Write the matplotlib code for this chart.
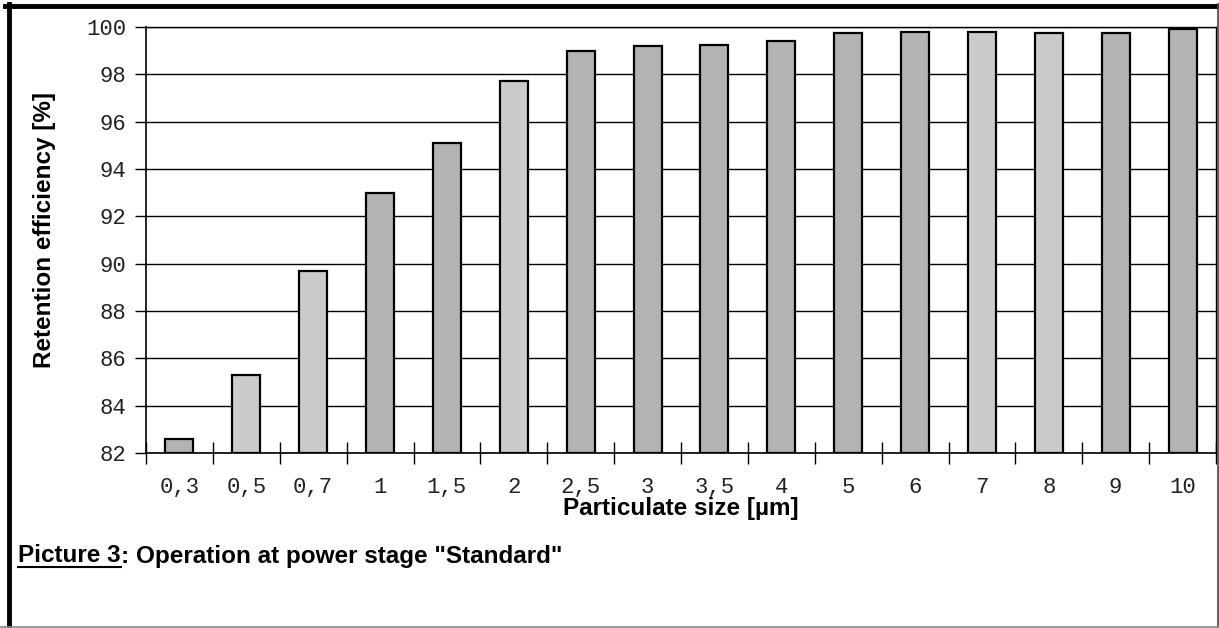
import numpy as np
import matplotlib
matplotlib.use("Agg")
import matplotlib.pyplot as plt
from matplotlib.lines import Line2D
from matplotlib.ticker import FixedLocator

# ── Data ──────────────────────────────────────────────────────────────────────
sizes = ["0,3", "0,5", "0,7", "1", "1,5", "2", "2,5", "3",
         "3,5", "4", "5", "6", "7", "8", "9", "10"]
efficiency = [82.6, 85.3, 89.7, 93.0, 95.1, 97.7, 99.0, 99.2,
              99.25, 99.4, 99.75, 99.8, 99.8, 99.75, 99.75, 99.9]
shade = ["d", "l", "l", "d", "d", "l", "d", "d",
         "d", "d", "d", "d", "l", "l", "d", "d"]
yticks = [82, 84, 86, 88, 90, 92, 94, 96, 98, 100]

SHADE_COLOR = {"d": "#b3b3b3", "l": "#cbcbcb"}
MONO = "Liberation Mono"
SANS = "Liberation Sans"
LABEL_SIZE = 17.5

# ── Figure ────────────────────────────────────────────────────────────────────
W, H = 1219, 628
fig = plt.figure(figsize=(W / 100, H / 100), dpi=100)
fig.patch.set_facecolor("white")
ax = fig.add_axes([146 / W, 1 - 453 / H, (1216 - 146) / W, (453 - 27) / H])

x = np.arange(len(sizes))
ax.bar(x, [v - 82 for v in efficiency], bottom=82, width=0.42,
       color=[SHADE_COLOR[s] for s in shade], edgecolor="black",
       linewidth=1.6, zorder=3)

ax.set_xlim(-0.5, len(sizes) - 0.5)
ax.set_ylim(82, 100)
ax.set_yticks(yticks)
ax.yaxis.grid(True, color="black", linewidth=1.0, zorder=0)
ax.set_axisbelow(True)

ax.set_xticks(x)
ax.set_xticklabels(sizes)
ax.xaxis.set_minor_locator(FixedLocator(np.arange(-0.5, len(sizes), 1.0)))
ax.tick_params(axis="x", which="major", length=0, pad=17)
ax.tick_params(axis="x", which="minor", direction="inout", length=16, width=1.0)
ax.tick_params(axis="y", direction="out", length=8, width=1.0, pad=6)
for lab in ax.get_xticklabels() + ax.get_yticklabels():
    lab.set_fontfamily(MONO)
    lab.set_fontsize(16)
    lab.set_color("#222222")

for sp in ["left", "bottom"]:
    ax.spines[sp].set_linewidth(1.2)
ax.spines["top"].set_linewidth(1.0)
ax.spines["right"].set_linewidth(1.0)

fig.text(45 / W, 1 - 230 / H, "Retention efficiency [%]", fontfamily=SANS,
         fontweight="bold", fontsize=LABEL_SIZE, rotation=90,
         ha="center", va="center")
fig.text(681 / W, 1 - 508 / H, "Particulate size [µm]", fontfamily=SANS,
         fontweight="bold", fontsize=LABEL_SIZE, ha="center", va="center")

# ── Caption with underlined "Picture 3" ──────────────────────────────────────
cap_y = 1 - 556 / H
t1 = fig.text(18 / W, cap_y, "Picture 3", fontfamily=SANS,
              fontweight="bold", fontsize=LABEL_SIZE, ha="left", va="center")
fig.canvas.draw()
bb = t1.get_window_extent()
fig.text(bb.x1 / W, cap_y, ": Operation at power stage \"Standard\"",
         fontfamily=SANS, fontweight="bold", fontsize=LABEL_SIZE,
         ha="left", va="center")
fig.add_artist(Line2D([bb.x0 / W, bb.x1 / W], [(bb.y0 + 1) / H] * 2,
                      color="black", linewidth=1.5))

# ── Outer frame ──────────────────────────────────────────────────────────────
fig.add_artist(Line2D([0.004, 1], [1 - 5.5 / H] * 2, color="black", linewidth=3.5))
fig.add_artist(Line2D([8.5 / W] * 2, [0, 1 - 4 / H], color="black", linewidth=3.5))
fig.add_artist(Line2D([1217.5 / W] * 2, [0, 1 - 4 / H], color="#444444", linewidth=1.2))
fig.add_artist(Line2D([0, 1], [1.0 / H] * 2, color="#888888", linewidth=1.2))

fig.savefig("out.png", dpi=100, facecolor=fig.get_facecolor())
